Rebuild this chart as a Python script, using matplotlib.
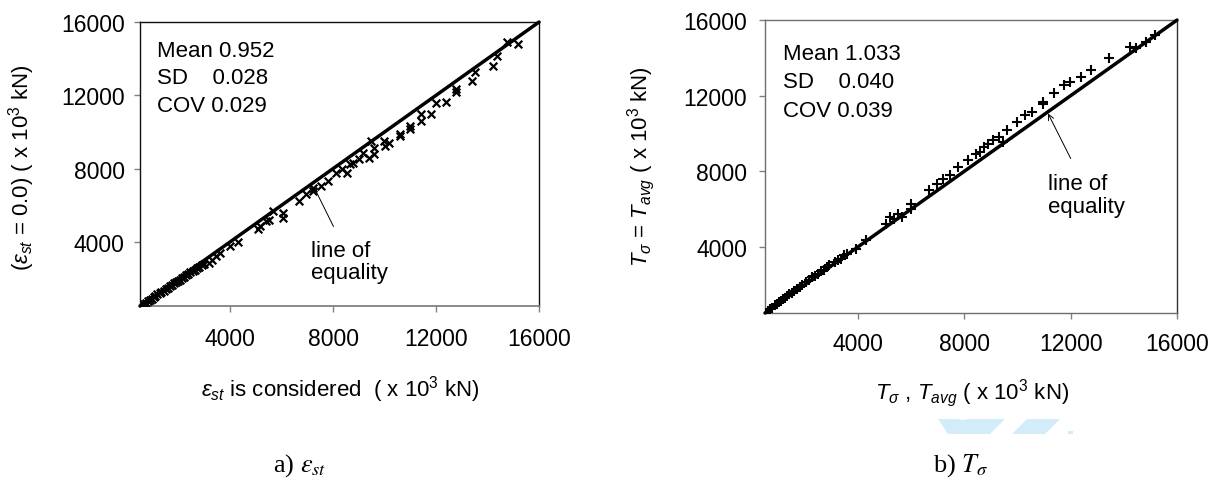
import matplotlib
matplotlib.use("Agg")
import matplotlib.pyplot as plt
from matplotlib.patches import Polygon, Circle

plt.rcParams['font.family'] = ['Liberation Sans', 'DejaVu Sans']
plt.rcParams['mathtext.fontset'] = 'custom'
plt.rcParams['mathtext.rm'] = 'Liberation Sans'
plt.rcParams['mathtext.it'] = 'Liberation Sans:italic'
plt.rcParams['mathtext.bf'] = 'Liberation Sans:bold'

# Data (x 10^3 kN)
# a) strain considered vs strain = 0.0
eps_x = [650, 720, 800, 880, 950, 1030, 1100, 1180, 1260, 1330, 1420, 1500,
         1580, 1660, 1740, 1820, 1900, 1980, 2060, 2140, 2220, 2300, 2380,
         2460, 2540, 2620, 2700, 2800, 2900, 3000, 3162, 3310, 3458, 3606,
         4005, 4316, 5085, 5159, 5381, 5529, 5677, 6046, 6046, 6682, 6963,
         7230, 7230, 7525, 7821, 8117, 8339, 8560, 8664, 8782, 9004, 9152,
         9404, 9492, 9596, 9596, 9966, 10010, 10187, 10602, 10602, 11001,
         11001, 11400, 11400, 11785, 12006, 12376, 12776, 12776, 13397,
         13515, 14225, 14373, 14772, 15172]
eps_y = [620, 690, 760, 850, 900, 990, 1040, 1130, 1190, 1270, 1340, 1430,
         1500, 1580, 1640, 1740, 1790, 1890, 1940, 2030, 2090, 2190, 2240,
         2340, 2400, 2480, 2550, 2640, 2730, 2810, 2840, 3023, 3205, 3388,
         3790, 3973, 4704, 4851, 5125, 5216, 5673, 5582, 5308, 6222, 6587,
         6770, 6953, 7044, 7318, 7775, 7958, 7775, 8232, 8324, 8507, 8872,
         8598, 9512, 9146, 8781, 9512, 9238, 9421, 9878, 9786, 10335,
         10152, 10974, 10609, 10974, 11578, 11614, 12345, 12162, 12802,
         13259, 13625, 14137, 14905, 14813]

# b) T_sigma vs T_avg
t_x = [620, 700, 780, 860, 940, 1020, 1100, 1180, 1260, 1340, 1420, 1500,
       1600, 1700, 1800, 1900, 2043, 2150, 2263, 2380, 2483, 2600, 2704,
       2820, 2924, 3144, 3250, 3364, 3470, 3584, 3922, 4319, 5054, 5200,
       5347, 5494, 5641, 5979, 6009, 6670, 6964, 7184, 7477, 7771, 8139,
       8433, 8579, 8727, 8874, 9094, 9314, 9461, 9608, 9975, 10269,
       10562, 10959, 10959, 11371, 11767, 11958, 12399, 12767, 13428,
       14236, 14456, 14823, 15190]
t_y = [600, 700, 790, 900, 970, 1080, 1150, 1250, 1310, 1420, 1480, 1580,
       1680, 1780, 1890, 1990, 2141, 2230, 2406, 2470, 2583, 2700, 2759,
       2930, 3024, 3200, 3300, 3377, 3560, 3642, 3906, 4348, 5230, 5583,
       5495, 5760, 5583, 6024, 6289, 6995, 7348, 7613, 7789, 8231, 8584,
       8937, 9025, 9290, 9466, 9643, 9819, 9554, 10172, 10613, 10966,
       11143, 11549, 11672, 12149, 12555, 12731, 12996, 13349, 13967,
       14585, 14496, 14849, 15202]

lo, hi = 500, 16000
ticks = [4000, 8000, 12000, 16000]

fig = plt.figure(figsize=(12.11, 4.81), dpi=100)
ax1 = fig.add_axes([0.1156, 0.3617, 0.3295, 0.5904])
ax2 = fig.add_axes([0.6317, 0.3472, 0.3402, 0.6090])


def style(ax, xpad, ypad):
    ax.set_xlim(lo, hi)
    ax.set_ylim(lo, hi)
    ax.set_xticks(ticks)
    ax.set_yticks(ticks)
    ax.tick_params(axis='x', direction='out', length=4, width=1,
                   color='#808080', labelsize=16.5, pad=xpad)
    ax.tick_params(axis='y', direction='out', length=4, width=1,
                   color='#808080', labelsize=16.5, pad=ypad)
    for s in ax.spines.values():
        s.set_linewidth(1.0)
    ax.plot([lo, hi], [lo, hi], color='black', lw=2.5, clip_on=False,
            solid_capstyle='round', zorder=3)


style(ax1, 11, 7)
for k in ['top', 'left', 'right']:
    ax1.spines[k].set_color('#111111')
ax1.spines['bottom'].set_color('#808080')
ax1.spines['bottom'].set_linewidth(1.3)
ax1.scatter(eps_x, eps_y, marker='x', s=30, color='black', lw=1.6, zorder=4)

style(ax2, 10, 9)
for k in ['top', 'left', 'bottom']:
    ax2.spines[k].set_color('#6e6e6e')
ax2.spines['right'].set_color('#333333')
ax2.scatter(t_x, t_y, marker='+', s=42, color='black', lw=1.5, zorder=4)

# statistics boxes
for ax, (xs, ys), vals in [
        (ax1, (1166, [14448, 12985, 11468]), ['Mean 0.952', 'SD    0.028', 'COV 0.029']),
        (ax2, (1161, [14232, 12767, 11231]), ['Mean 1.033', 'SD    0.040', 'COV 0.039'])]:
    for y, s in zip(ys, vals):
        ax.text(xs, y, s, fontsize=16, ha='left', va='center')

# line of equality annotations
ax1.annotate('line of\nequality', xy=(7303, 6861), xytext=(7156, 2931),
             fontsize=16, ha='left', va='center', linespacing=1.1)
ax1.plot([7303, 8013], [6861, 4851], color='black', lw=0.7)

ax2.annotate('line of\nequality', xy=(11150, 11055), xytext=(11150, 6730),
             fontsize=16, ha='left', va='center', linespacing=1.1)
ax2.annotate('', xy=(11150, 11055), xytext=(12003, 8672),
             arrowprops=dict(arrowstyle='->', lw=0.7, color='black',
                             shrinkA=0, shrinkB=0, mutation_scale=10))

# axis labels
ax1.text(0.503, -0.292, r'$\varepsilon_{st}$ is considered  ( x 10$^3$ kN)',
         transform=ax1.transAxes, ha='center', va='center', fontsize=16)
ax1.text(-0.296, 0.49, r'($\varepsilon_{st}$ = 0.0) ( x 10$^3$ kN)',
         transform=ax1.transAxes, ha='center', va='center', fontsize=16,
         rotation=90)
ax2.text(0.502, -0.27, r'$T_\sigma$ , $T_{avg}$ ( x 10$^3$ kN)',
         transform=ax2.transAxes, ha='center', va='center', fontsize=16)
ax2.text(-0.301, 0.505, r'$T_\sigma$ = $T_{avg}$ ( x 10$^3$ kN)',
         transform=ax2.transAxes, ha='center', va='center', fontsize=16,
         rotation=90)

# captions
fig.text(300 / 1211, 1 - 466 / 481, r'a) $\varepsilon_{st}$', fontsize=19,
         family='Liberation Serif', math_fontfamily='stix',
         ha='center', va='center')
fig.text(961 / 1211, 1 - 466 / 481, r'b) $T_\sigma$', fontsize=19,
         family='Liberation Serif', math_fontfamily='stix',
         ha='center', va='center')

# faint watermark remnant
W, H = 1211, 481
def fp(pts):
    return [(x / W, 1 - y / H) for x, y in pts]
wm = '#d3ecf9'
fig.patches.append(Polygon(fp([(938, 420), (1005, 420), (990, 435), (948, 435)]),
                           closed=True, color=wm, transform=fig.transFigure, lw=0))
fig.patches.append(Circle((963 / W, 1 - 418 / H), 7 / W, color='white',
                          transform=fig.transFigure, lw=0))
fig.patches.append(Polygon(fp([(1027, 420), (1060, 420), (1045, 435), (1012, 435)]),
                           closed=True, color=wm, transform=fig.transFigure, lw=0))
fig.patches.append(Polygon(fp([(1068, 432), (1073, 432), (1073, 435), (1068, 435)]),
                           closed=True, color=wm, transform=fig.transFigure, lw=0))

fig.savefig('out.png', dpi=100)
